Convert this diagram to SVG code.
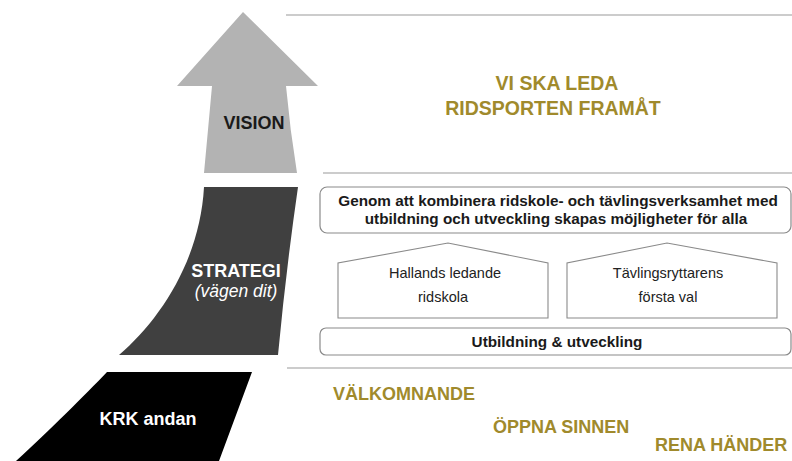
<svg xmlns="http://www.w3.org/2000/svg" width="792" height="461" viewBox="0 0 792 461">
<style>
.sep{stroke:#9a9a9a;stroke-width:1.2;fill:none}
.box{fill:#fff;stroke:#8a8a8a;stroke-width:1.2}
.house{fill:#fff;stroke:#8a8a8a;stroke-width:1.1}
.lbl{font-family:"Liberation Sans",Arial,sans-serif;font-weight:bold;font-size:18px;text-anchor:middle}
.gold{font-family:"Liberation Sans",Arial,sans-serif;font-weight:bold;fill:#a08a2c}
.bt{font-family:"Liberation Sans",Arial,sans-serif;font-weight:bold;font-size:15.3px;fill:#1a1a1a;text-anchor:middle}
.ht{font-family:"Liberation Sans",Arial,sans-serif;font-size:14.5px;fill:#222;text-anchor:middle}
</style>
<rect width="792" height="461" fill="#fff"/>
<g id="separators">
<line class="sep" x1="286" y1="15" x2="792" y2="15"/>
<line class="sep" x1="323" y1="173" x2="792" y2="173"/>
<line class="sep" x1="287" y1="368" x2="792" y2="368"/>
</g>
<g id="vision">
<path d="M243,12 L318,86 L286,86 Q290,130 297,173 L204,173 Q208,130 212,86 L177,86 Z" fill="#b3b3b3"/>
<text class="lbl" x="254" y="129" fill="#1a1a1a">VISION</text>
</g>
<g id="strategi">
<path d="M204,187 L298,187 Q286,270 278,355 L119,355 C160,320 200,260 204,187 Z" fill="#404040"/>
<text class="lbl" x="236" y="277" fill="#fff">STRATEGI</text>
<text x="236" y="297" font-family="Liberation Sans,Arial,sans-serif" font-style="italic" font-size="17.5" fill="#fff" text-anchor="middle">(vägen dit)</text>
</g>
<g id="krk">
<path d="M107,372 L252,372 L219,461 L16,461 C50,430 85,395 107,372 Z" fill="#000"/>
<text class="lbl" x="148" y="425" fill="#fff">KRK andan</text>
</g>
<g id="vision-text">
<text class="gold" x="557" y="90" font-size="19.5" text-anchor="middle">VI SKA LEDA</text>
<text class="gold" x="553" y="115" font-size="19.5" text-anchor="middle">RIDSPORTEN FRAMÅT</text>
</g>
<g id="strategy-box">
<rect class="box" x="320" y="187" width="471" height="46" rx="7"/>
<text class="bt" x="558" y="206">Genom att kombinera ridskole- och tävlingsverksamhet med</text>
<text class="bt" x="556" y="224">utbildning och utveckling skapas möjligheter för alla</text>
</g>
<g id="house-left">
<path class="house" d="M338,318 L338,263 L448,243 L548,263 L548,318 Z"/>
<text class="ht" x="445" y="278">Hallands  ledande</text>
<text class="ht" x="443" y="302">ridskola</text>
</g>
<g id="house-right">
<path class="house" d="M567,318 L567,263 L667,243 L777,263 L777,318 Z"/>
<text class="ht" x="668" y="278">Tävlingsryttarens</text>
<text class="ht" x="668" y="302">första val</text>
</g>
<g id="utbildning">
<rect class="box" x="320" y="328" width="471" height="27" rx="6"/>
<text class="bt" x="557" y="347">Utbildning &amp; utveckling</text>
</g>
<g id="values">
<text class="gold" x="333" y="400" font-size="18">VÄLKOMNANDE</text>
<text class="gold" x="493" y="433" font-size="18">ÖPPNA SINNEN</text>
<text class="gold" x="655" y="451" font-size="18">RENA HÄNDER</text>
</g>
</svg>
